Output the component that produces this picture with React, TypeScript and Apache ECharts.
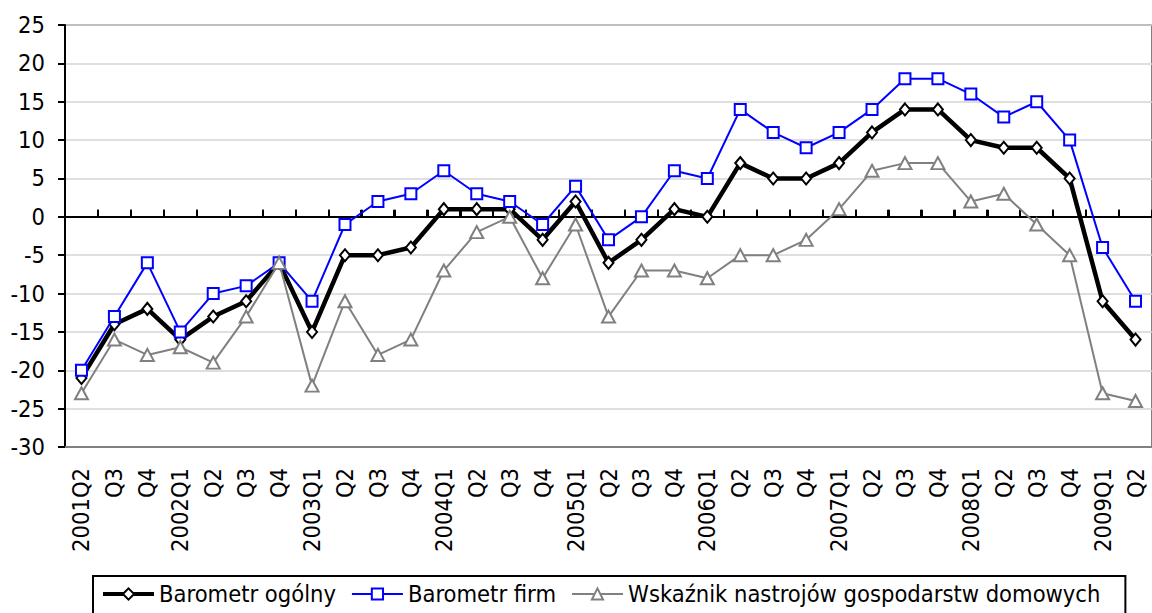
import React, { useEffect, useRef } from "react";
import * as echarts from "echarts";

const categories = [
  "2001Q2", "Q3", "Q4",
  "2002Q1", "Q2", "Q3", "Q4",
  "2003Q1", "Q2", "Q3", "Q4",
  "2004Q1", "Q2", "Q3", "Q4",
  "2005Q1", "Q2", "Q3", "Q4",
  "2006Q1", "Q2", "Q3", "Q4",
  "2007Q1", "Q2", "Q3", "Q4",
  "2008Q1", "Q2", "Q3", "Q4",
  "2009Q1", "Q2",
];

const barometrOgolny = [
  -21, -14, -12,
  -16, -13, -11, -6,
  -15, -5, -5, -4,
  1, 1, 1, -3,
  2, -6, -3, 1,
  0, 7, 5, 5,
  7, 11, 14, 14,
  10, 9, 9, 5,
  -11, -16,
];

const barometrFirm = [
  -20, -13, -6,
  -15, -10, -9, -6,
  -11, -1, 2, 3,
  6, 3, 2, -1,
  4, -3, 0, 6,
  5, 14, 11, 9,
  11, 14, 18, 18,
  16, 13, 15, 10,
  -4, -11,
];

const gospodarstwa = [
  -23, -16, -18,
  -17, -19, -13, -6,
  -22, -11, -18, -16,
  -7, -2, 0, -8,
  -1, -13, -7, -7,
  -8, -5, -5, -3,
  1, 6, 7, 7,
  2, 3, -1, -5,
  -23, -24,
];

const seriesNames = [
  "Barometr ogólny",
  "Barometr firm",
  "Wskaźnik nastrojów gospodarstw domowych",
];

const FONT = 'Tahoma, "DejaVu Sans Condensed", "DejaVu Sans", sans-serif';
const GRID = { left: 65, top: 25, width: 1089, height: 422 };

export default function App() {
  const ref = useRef<HTMLDivElement>(null);

  useEffect(() => {
    if (!ref.current) return;
    const chart = echarts.init(ref.current, null, { renderer: "svg" });
    const tickData = categories.map((_, i) => [i, 0]).slice(1);
    chart.setOption({
      animation: false,
      backgroundColor: "#ffffff",
      textStyle: { fontFamily: FONT },
      grid: [
        {
          ...GRID,
          show: true,
          borderColor: "#808080",
          borderWidth: 2,
          backgroundColor: "transparent",
        },
        { ...GRID, show: false },
      ],
      legend: {
        left: 93,
        top: 576,
        padding: [6, 25, 12, 8],
        borderColor: "#000",
        borderWidth: 2,
        itemGap: 15,
        itemWidth: 51,
        itemHeight: 14,
        textStyle: { fontSize: 23.5, color: "#000", fontFamily: FONT },
        data: [
          { name: seriesNames[0], lineStyle: { width: 4 } },
          { name: seriesNames[1] },
          { name: seriesNames[2] },
        ],
      },
      xAxis: [
        {
          type: "category",
          gridIndex: 0,
          position: "bottom",
          data: categories,
          boundaryGap: true,
          axisLine: { onZero: false, lineStyle: { color: "#808080", width: 2 } },
          axisTick: { show: false },
          axisLabel: {
            rotate: 90,
            interval: 0,
            fontSize: 23.5,
            color: "#000",
            margin: 21,
            fontFamily: FONT,
          },
          splitLine: { show: false },
        },
        {
          type: "category",
          gridIndex: 1,
          position: "bottom",
          data: categories,
          boundaryGap: true,
          axisLine: { show: true, onZero: true, lineStyle: { color: "#000", width: 2 } },
          axisTick: {
            show: true,
            inside: true,
            length: 7,
            interval: 0,
            lineStyle: { color: "#000", width: 2 },
          },
          axisLabel: { show: false, interval: 0 },
          splitLine: { show: false },
        },
      ],
      yAxis: [
        {
          type: "value",
          gridIndex: 0,
          min: -30,
          max: 25,
          interval: 5,
          axisLine: { show: true, lineStyle: { color: "#000", width: 2 } },
          axisTick: { show: true, length: 7, lineStyle: { color: "#000", width: 2 } },
          axisLabel: { fontSize: 23.5, color: "#000", margin: 20, fontFamily: FONT },
          splitLine: { show: true, lineStyle: { color: "#d4d4d4", width: 1.5 } },
        },
        {
          type: "value",
          gridIndex: 1,
          min: -30,
          max: 25,
          interval: 5,
          axisLine: { show: false },
          axisTick: { show: false },
          axisLabel: { show: false },
          splitLine: { show: false },
        },
      ],
      series: [
        {
          name: "ticks",
          type: "custom",
          xAxisIndex: 0,
          yAxisIndex: 0,
          silent: true,
          z: 2,
          data: tickData,
          renderItem: (params: any, api: any) => {
            const p = api.coord([api.value(0), api.value(1)]);
            const w = api.size([1, 0])[0];
            const x = Math.round(p[0] - w / 2);
            return {
              type: "line",
              shape: { x1: x, y1: p[1], x2: x, y2: p[1] - 7 },
              style: { stroke: "#000", lineWidth: 2 },
            };
          },
        },
        {
          name: seriesNames[0],
          type: "line",
          data: barometrOgolny,
          xAxisIndex: 0,
          yAxisIndex: 0,
          symbol: "diamond",
          symbolSize: [10, 12],
          lineStyle: { color: "#000", width: 4.5 },
          itemStyle: { color: "#fff", borderColor: "#000", borderWidth: 2 },
          z: 3,
        },
        {
          name: seriesNames[1],
          type: "line",
          data: barometrFirm,
          xAxisIndex: 0,
          yAxisIndex: 0,
          symbol: "rect",
          symbolSize: 11,
          lineStyle: { color: "#0000ff", width: 2 },
          itemStyle: { color: "#fff", borderColor: "#0000ff", borderWidth: 2 },
          z: 4,
        },
        {
          name: seriesNames[2],
          type: "line",
          data: gospodarstwa,
          xAxisIndex: 0,
          yAxisIndex: 0,
          symbol: "triangle",
          symbolSize: [13, 12],
          lineStyle: { color: "#808080", width: 2 },
          itemStyle: { color: "#fff", borderColor: "#808080", borderWidth: 2 },
          z: 5,
        },
      ],
    });
    return () => chart.dispose();
  }, []);

  return (
    <div
      ref={ref}
      style={{ position: "fixed", left: 0, top: 0, width: 1152, height: 613 }}
    />
  );
}
